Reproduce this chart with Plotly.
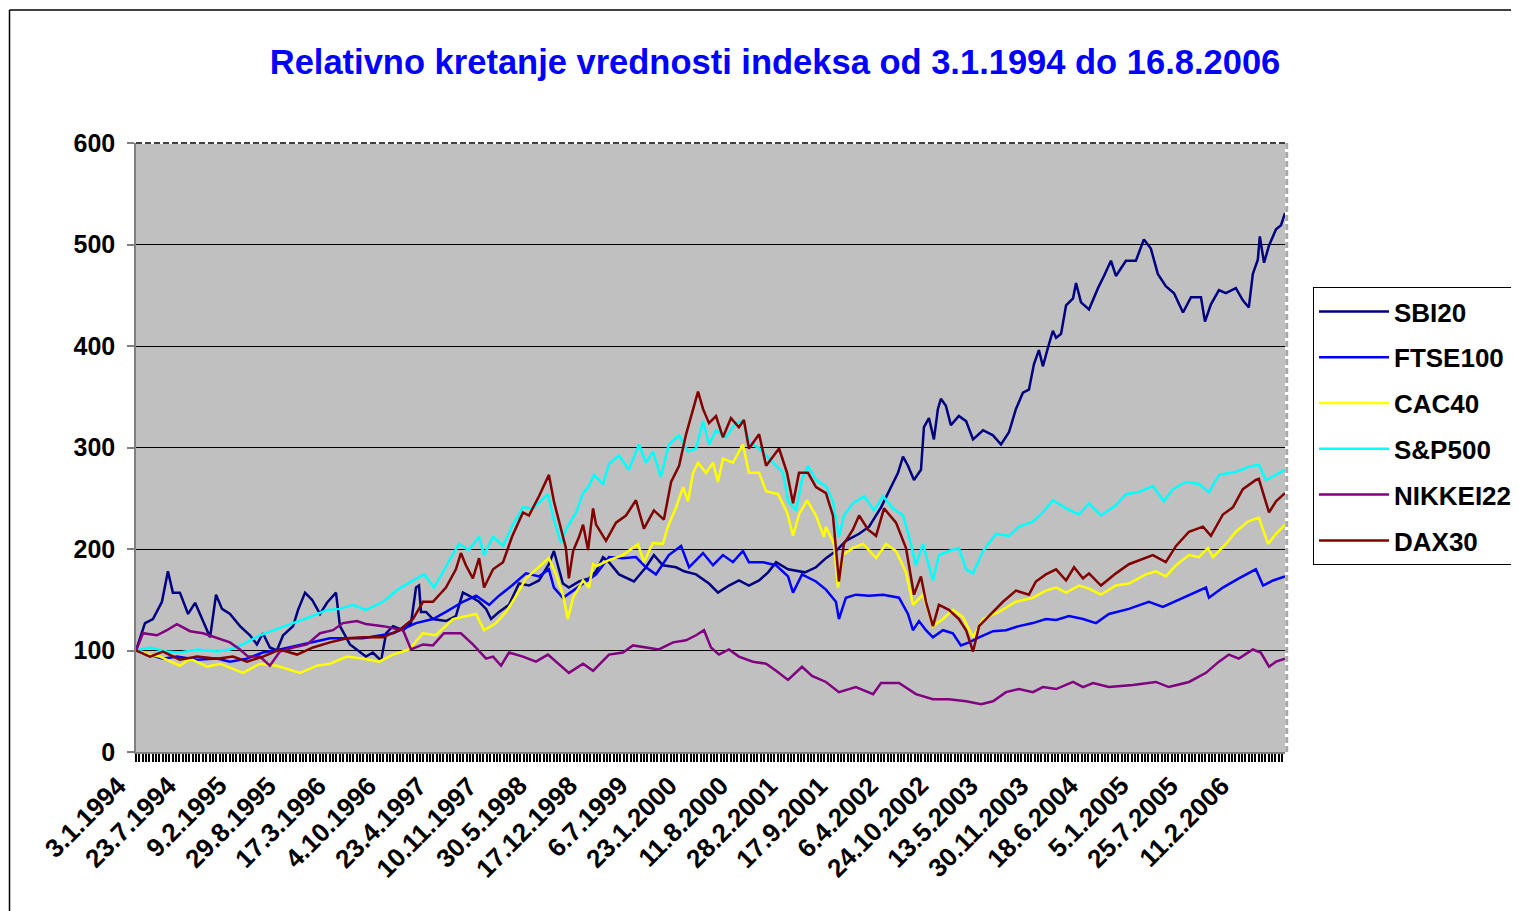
import datetime as dt
import plotly.graph_objects as go

START = dt.datetime(1994, 1, 3)
END = dt.datetime(2006, 8, 16)

# x tick labels (category labels shown on the axis)
tick_labels = ["3.1.1994", "23.7.1994", "9.2.1995", "29.8.1995", "17.3.1996", "4.10.1996",
               "23.4.1997", "10.11.1997", "30.5.1998", "17.12.1998", "6.7.1999", "23.1.2000",
               "11.8.2000", "28.2.2001", "17.9.2001", "6.4.2002", "24.10.2002", "13.5.2003",
               "30.11.2003", "18.6.2004", "5.1.2005", "25.7.2005", "11.2.2006"]

series_names = ["SBI20", "FTSE100", "CAC40", "S&P500", "NIKKEI225", "DAX30"]
series_colors = ["#000080", "#0000FF", "#FFFF00", "#00FFFF", "#800080", "#800000"]

# day offsets from 3.1.1994 and relative index values
sbi_days = [0, 36, 68, 104, 128, 148, 176, 209, 237, 285, 297, 321, 345, 377, 417, 457, 485, 509, 537, 565,
            590, 630, 650, 678, 706, 738, 766, 802, 818, 858, 898, 922, 950, 983, 1003, 1031, 1071, 1103, 1123, 1135,
            1143, 1163, 1191, 1243, 1283, 1311, 1335, 1376, 1404, 1424, 1456, 1496, 1536, 1576, 1616, 1656, 1676, 1692, 1712, 1736,
            1777, 1817, 1845, 1873, 1897, 1937, 1997, 2045, 2077, 2113, 2166, 2198, 2246, 2298, 2334, 2378, 2418, 2458, 2499, 2535,
            2567, 2615, 2683, 2727, 2767, 2807, 2847, 2900, 2940, 2988, 3020, 3056, 3076, 3096, 3120, 3148, 3160, 3180, 3200, 3216,
            3228, 3248, 3268, 3300, 3329, 3357, 3397, 3437, 3469, 3501, 3529, 3557, 3581, 3601, 3621, 3637, 3657, 3677, 3690, 3710,
            3730, 3758, 3770, 3790, 3822, 3858, 3882, 3910, 3930, 3970, 4010, 4042, 4070, 4098, 4130, 4163, 4199, 4231, 4271, 4287,
            4311, 4343, 4371, 4411, 4439, 4463, 4479, 4499, 4507, 4524, 4544, 4572, 4592, 4608]
sbi_vals = [100, 127, 131, 148, 178, 157, 157, 136, 147, 120, 113, 155, 141, 136, 124, 115, 106, 117, 103, 100,
            115, 124, 140, 157, 150, 136, 147, 157, 124, 106, 98, 94, 98, 90, 117, 124, 120, 127, 162, 164,
            138, 138, 131, 129, 134, 157, 154, 148, 141, 131, 138, 145, 166, 164, 169, 185, 198, 184, 166, 162,
            168, 171, 178, 192, 187, 175, 168, 182, 194, 184, 182, 178, 175, 166, 157, 164, 169, 164, 169, 177,
            187, 180, 177, 182, 191, 198, 208, 215, 222, 241, 257, 275, 291, 282, 268, 278, 320, 329, 308, 338,
            348, 341, 322, 331, 326, 308, 317, 312, 303, 315, 338, 354, 357, 382, 396, 380, 398, 415, 408, 412,
            440, 447, 462, 443, 436, 457, 469, 484, 469, 484, 484, 505, 496, 471, 459, 452, 433, 448, 448, 424,
            441, 455, 452, 457, 445, 438, 471, 485, 508, 482, 499, 515, 519, 531]

ftse_days = [0, 56, 108, 164, 245, 325, 377, 445, 509, 577, 646, 710, 778, 846, 910, 1031, 1123, 1191, 1243, 1311,
             1364, 1416, 1456, 1508, 1564, 1616, 1656, 1676, 1712, 1753, 1793, 1845, 1897, 1953, 2005, 2045, 2085, 2137, 2186, 2218,
             2274, 2314, 2354, 2394, 2434, 2458, 2515, 2567, 2615, 2635, 2671, 2727, 2767, 2807, 2819, 2847, 2887, 2940, 2996, 3060,
             3096, 3116, 3140, 3168, 3196, 3236, 3276, 3308, 3341, 3381, 3437, 3489, 3541, 3597, 3649, 3690, 3742, 3798, 3850, 3902,
             3982, 4062, 4118, 4183, 4251, 4291, 4303, 4359, 4423, 4491, 4520, 4560, 4608]
ftse_vals = [100, 96, 92, 94, 91, 92, 89, 92, 98, 101, 105, 108, 112, 112, 112, 117, 127, 131, 138, 148,
             154, 145, 154, 164, 176, 173, 180, 162, 152, 159, 166, 175, 192, 191, 192, 182, 175, 194, 203, 182,
             196, 184, 194, 187, 198, 187, 187, 184, 173, 157, 175, 168, 160, 148, 131, 152, 155, 154, 155, 152,
             136, 120, 129, 120, 113, 120, 117, 105, 108, 113, 119, 120, 124, 127, 131, 130, 134, 131, 127, 136,
             141, 148, 143, 150, 157, 162, 152, 162, 171, 180, 164, 169, 173]

cac_days = [0, 56, 96, 176, 217, 285, 337, 429, 497, 565, 658, 726, 778, 846, 910, 975, 1031, 1095, 1151, 1203,
            1271, 1323, 1364, 1396, 1444, 1484, 1520, 1564, 1616, 1656, 1684, 1712, 1732, 1753, 1793, 1817, 1833, 1845, 1897, 1953,
            2013, 2037, 2073, 2113, 2133, 2166, 2194, 2214, 2234, 2254, 2286, 2314, 2334, 2354, 2394, 2434, 2458, 2499, 2527, 2575,
            2611, 2635, 2659, 2691, 2727, 2759, 2767, 2799, 2815, 2835, 2875, 2916, 2968, 3008, 3048, 3088, 3116, 3156, 3196, 3236,
            3276, 3316, 3357, 3397, 3461, 3529, 3597, 3649, 3690, 3730, 3782, 3822, 3870, 3930, 3982, 4050, 4090, 4130, 4171, 4223,
            4263, 4299, 4319, 4371, 4411, 4459, 4503, 4540, 4572, 4608]
cac_vals = [100, 96, 94, 85, 92, 84, 87, 78, 87, 85, 78, 85, 87, 94, 92, 89, 96, 101, 117, 115,
            131, 134, 136, 120, 127, 138, 152, 171, 182, 191, 175, 155, 131, 152, 169, 162, 185, 183, 189, 194,
            205, 187, 206, 205, 222, 241, 261, 247, 275, 285, 275, 285, 266, 289, 285, 303, 275, 275, 257, 254,
            236, 213, 234, 248, 233, 212, 222, 205, 162, 194, 201, 205, 191, 205, 198, 177, 145, 155, 124, 131,
            140, 133, 113, 131, 138, 148, 152, 159, 162, 157, 164, 161, 155, 164, 166, 175, 178, 173, 184, 194,
            192, 201, 192, 205, 217, 227, 231, 205, 215, 224]

sp_days = [0, 56, 124, 176, 245, 325, 377, 429, 497, 549, 618, 698, 766, 818, 870, 922, 991, 1055, 1111, 1155,
           1195, 1243, 1295, 1335, 1376, 1396, 1432, 1472, 1508, 1552, 1592, 1652, 1676, 1704, 1724, 1765, 1793, 1817, 1837, 1873,
           1897, 1937, 1977, 2017, 2045, 2073, 2105, 2137, 2178, 2214, 2246, 2274, 2298, 2326, 2366, 2406, 2434, 2458, 2499, 2539,
           2595, 2615, 2647, 2671, 2695, 2727, 2767, 2795, 2819, 2839, 2875, 2920, 2960, 2996, 3036, 3076, 3108, 3128, 3156, 3196,
           3220, 3260, 3300, 3329, 3357, 3397, 3449, 3501, 3541, 3597, 3637, 3677, 3730, 3782, 3822, 3870, 3930, 3970, 4022, 4078,
           4122, 4159, 4211, 4263, 4303, 4343, 4411, 4463, 4503, 4532, 4572, 4608]
sp_vals = [100, 103, 99, 98, 101, 99, 101, 106, 115, 120, 126, 133, 140, 141, 145, 140, 148, 161, 169, 175,
           162, 182, 205, 199, 212, 194, 212, 203, 222, 241, 240, 254, 229, 206, 219, 236, 255, 262, 273, 264,
           284, 292, 278, 303, 285, 296, 271, 303, 312, 296, 299, 326, 303, 317, 310, 324, 326, 306, 299, 289,
           275, 247, 238, 268, 282, 268, 262, 247, 212, 233, 245, 252, 238, 252, 240, 233, 205, 184, 205, 169,
           194, 198, 201, 180, 176, 198, 215, 213, 222, 227, 236, 248, 240, 234, 245, 233, 243, 254, 256, 262,
           247, 259, 266, 264, 256, 273, 276, 281, 283, 268, 273, 278]

nik_days = [0, 28, 84, 124, 164, 217, 269, 325, 377, 417, 449, 497, 537, 577, 630, 686, 738, 790, 830, 886,
            922, 991, 1071, 1103, 1151, 1191, 1235, 1303, 1351, 1404, 1432, 1464, 1496, 1552, 1604, 1652, 1696, 1736, 1793, 1833,
            1897, 1953, 1993, 2045, 2097, 2154, 2206, 2246, 2278, 2306, 2338, 2378, 2418, 2474, 2527, 2567, 2615, 2671, 2711, 2767,
            2819, 2887, 2956, 2988, 3060, 3128, 3196, 3260, 3329, 3389, 3437, 3489, 3541, 3597, 3637, 3690, 3758, 3798, 3838, 3902,
            3998, 4090, 4142, 4223, 4291, 4343, 4383, 4423, 4479, 4511, 4544, 4572, 4608]
nik_vals = [100, 117, 115, 120, 126, 119, 117, 112, 108, 101, 94, 94, 85, 99, 103, 106, 117, 120, 127, 129,
            126, 124, 120, 101, 106, 105, 117, 117, 106, 92, 94, 85, 98, 94, 89, 96, 87, 78, 87, 80,
            96, 98, 105, 103, 101, 108, 110, 115, 120, 103, 96, 101, 94, 89, 87, 80, 71, 84, 75, 69,
            59, 64, 57, 68, 68, 57, 52, 52, 50, 47, 50, 59, 62, 59, 64, 62, 69, 64, 68, 64,
            66, 69, 64, 69, 78, 89, 96, 92, 101, 98, 84, 89, 92]

dax_days = [0, 56, 108, 176, 245, 325, 389, 445, 509, 577, 646, 710, 778, 846, 910, 991, 1055, 1111, 1151, 1191,
            1243, 1283, 1303, 1323, 1351, 1376, 1396, 1432, 1472, 1508, 1552, 1576, 1616, 1656, 1676, 1704, 1724, 1736, 1753, 1777,
            1793, 1813, 1833, 1845, 1885, 1925, 1965, 2005, 2037, 2077, 2117, 2146, 2178, 2206, 2234, 2254, 2274, 2298, 2326, 2354,
            2386, 2418, 2438, 2458, 2499, 2527, 2579, 2611, 2635, 2659, 2695, 2727, 2767, 2795, 2819, 2839, 2875, 2900, 2936, 2968,
            3000, 3048, 3088, 3120, 3148, 3168, 3196, 3220, 3260, 3300, 3329, 3357, 3381, 3421, 3477, 3529, 3581, 3609, 3649, 3690,
            3730, 3762, 3798, 3822, 3870, 3930, 3982, 4078, 4130, 4171, 4223, 4279, 4311, 4359, 4399, 4439, 4491, 4503, 4544, 4572,
            4608]
dax_vals = [100, 94, 99, 91, 94, 92, 94, 89, 94, 101, 96, 103, 108, 112, 113, 113, 120, 131, 148, 148,
            162, 180, 196, 184, 171, 191, 162, 180, 187, 212, 236, 233, 252, 273, 247, 219, 201, 171, 198, 212,
            224, 199, 240, 224, 208, 226, 233, 248, 220, 238, 229, 266, 282, 313, 338, 355, 338, 324, 331, 310,
            329, 320, 327, 299, 313, 282, 299, 275, 245, 275, 275, 261, 255, 233, 168, 205, 219, 233, 219, 213,
            240, 226, 201, 155, 173, 148, 124, 145, 140, 131, 120, 99, 124, 134, 148, 159, 155, 168, 175, 180,
            169, 182, 171, 176, 164, 176, 185, 194, 187, 203, 217, 222, 213, 234, 241, 259, 268, 269, 236, 247,
            255]

y_ticks = [0, 100, 200, 300, 400, 500, 600]

all_days = [sbi_days, ftse_days, cac_days, sp_days, nik_days, dax_days]
all_vals = [sbi_vals, ftse_vals, cac_vals, sp_vals, nik_vals, dax_vals]


def to_dates(days):
    return [START + dt.timedelta(days=d) for d in days]


FONT = "Liberation Sans, Arial, sans-serif"
W, H = 1511, 903          # page adds an 8px body margin
ML, MT, PW, PH = 128, 135, 1149, 609

fig = go.Figure()
for name, color, days, vals in zip(series_names, series_colors, all_days, all_vals):
    fig.add_trace(go.Scatter(
        x=to_dates(days), y=vals, name=name, mode="lines",
        line=dict(color=color, width=2.5), legendgroup=name,
    ))

tick_dates = [dt.datetime.strptime(t, "%d.%m.%Y") for t in tick_labels]

fig.update_layout(
    width=W, height=H,
    paper_bgcolor="white", plot_bgcolor="#C0C0C0",
    margin=dict(l=ML, r=W - ML - PW, t=MT, b=H - MT - PH, autoexpand=False),
    font=dict(family=FONT, color="black"),
    title=dict(
        text="Relativno kretanje vrednosti indeksa od 3.1.1994 do 16.8.2006",
        font=dict(family=FONT, size=34.5, color="#0000FF", weight="bold"),
        x=767 / W, xref="container", xanchor="center",
        y=1 - 54 / H, yref="container", yanchor="middle",
    ),
    showlegend=True,
    legend=dict(
        x=(1313 - 136) / PW, y=(752 - 287) / PH, xanchor="left", yanchor="top",
        xref="paper", yref="paper",
        bgcolor="white", bordercolor="black", borderwidth=1,
        font=dict(family=FONT, size=26, color="black", weight="bold"),
        tracegroupgap=9, itemwidth=70,
    ),
    xaxis=dict(
        type="date", range=[START, END],
        tickmode="array", tickvals=tick_dates, ticktext=tick_labels, showticklabels=False,
        ticks="outside", ticklen=8, tickcolor="black", tickwidth=1.8,
        showgrid=False, zeroline=False,
        showline=True, linecolor="#808080", linewidth=1.5,
        minor=dict(ticks="outside", ticklen=8, tickcolor="black", tickwidth=1.8,
                   tick0=START, dtick=13.4 * 86400000, showgrid=False),
    ),
    yaxis=dict(
        range=[0, 600], tickmode="array", tickvals=y_ticks,
        tickfont=dict(family=FONT, size=25, color="black", weight="bold"),
        ticks="outside", ticklen=7, tickcolor="#808080", tickwidth=1.5,
        ticklabelstandoff=7,
        showgrid=True, gridcolor="black", gridwidth=1,
        zeroline=False, showline=True, linecolor="#808080", linewidth=1.5,
    ),
)

# rotated category labels below the x axis
for d, lab in zip(tick_dates, tick_labels):
    fig.add_annotation(
        x=d, xref="x", y=0, yref="paper", text=lab, showarrow=False,
        textangle=-45, xanchor="right", yanchor="top", xshift=-1, yshift=-16,
        font=dict(family=FONT, size=26, color="black", weight="bold"),
    )

# plot-area border: dashed top edge, dashed right edge
fig.add_shape(type="line", xref="paper", yref="paper", x0=0, x1=1, y0=1, y1=1,
              line=dict(color="white", width=2))
fig.add_shape(type="line", xref="paper", yref="paper", x0=0, x1=1, y0=1, y1=1,
              line=dict(color="black", width=1.5, dash="6px,3px"))
fig.add_shape(type="line", xref="paper", yref="paper", x0=1.0015, x1=1.0015, y0=0, y1=1,
              line=dict(color="#A8A8A8", width=3, dash="6px,3px"))

# chart-area outer border (left and top edges)
bx = (9.5 - 136) / PW
by = (752 - 10) / PH
fig.add_shape(type="line", xref="paper", yref="paper", x0=bx, x1=bx, y0=-0.35, y1=by,
              line=dict(color="black", width=1.5))
fig.add_shape(type="line", xref="paper", yref="paper", x0=bx, x1=1.3, y0=by, y1=by,
              line=dict(color="black", width=1.5))

fig.write_html("out.html")
